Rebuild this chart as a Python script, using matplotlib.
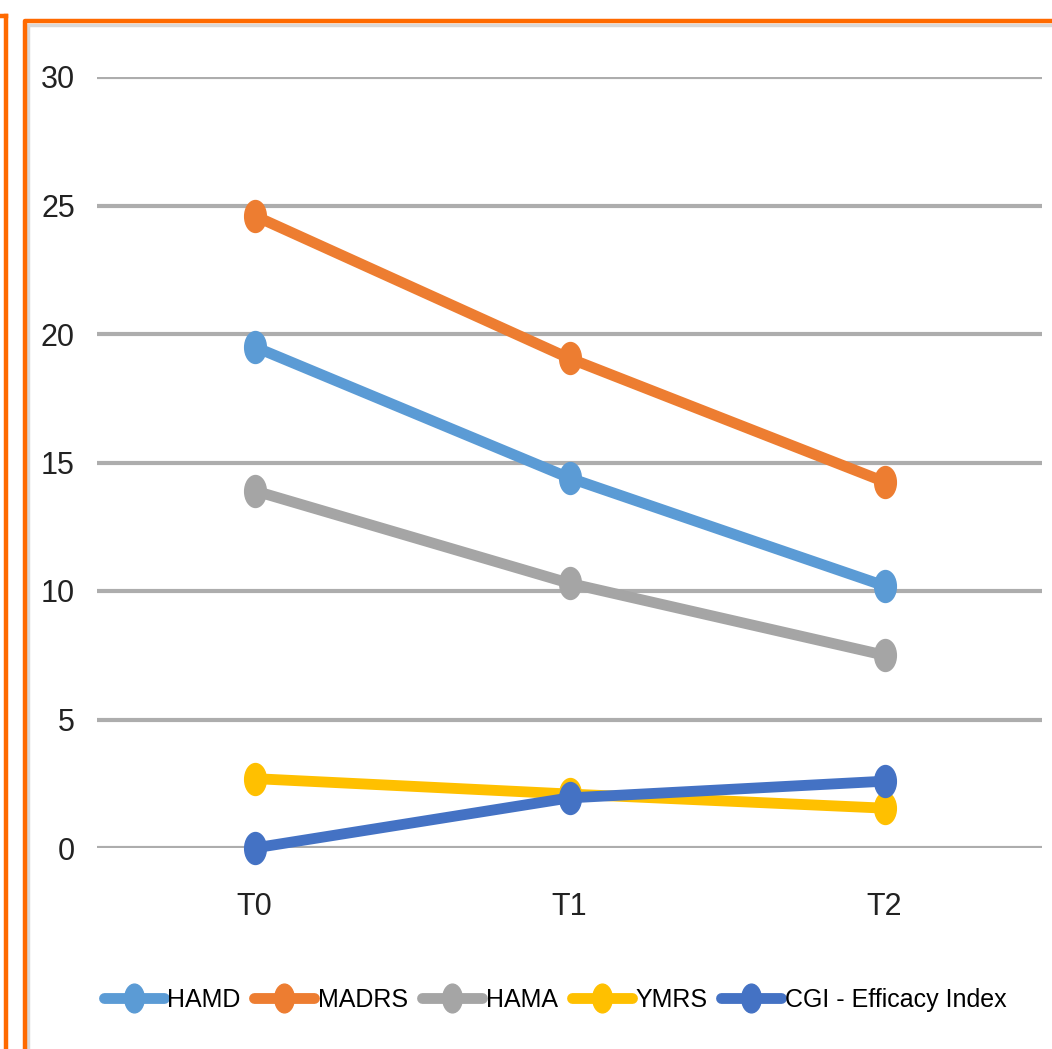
import numpy as np
import matplotlib.pyplot as plt
from matplotlib.lines import Line2D
from matplotlib.path import Path
from matplotlib.transforms import Affine2D

plt.rcParams['font.family'] = ['Liberation Sans', 'DejaVu Sans']

# scores at each visit
visits = ["T0", "T1", "T2"]
hamd = [19.5, 14.4, 10.2]
madrs = [24.6, 19.05, 14.25]
hama = [13.9, 10.3, 7.5]
ymrs = [2.7, 2.1, 1.55]
cgi = [0.0, 1.95, 2.6]

names = ["HAMD", "MADRS", "HAMA", "YMRS", "CGI - Efficacy Index"]
colors = ["#5B9BD5", "#ED7D31", "#A5A5A5", "#FFC000", "#4472C4"]

W, H = 1052, 1049
fig = plt.figure(figsize=(W / 100, H / 100), dpi=100)

def fx(px):
    return px / W

def fy(py):
    return 1 - py / H

ax = fig.add_axes([fx(97), fy(848), fx(1042) - fx(97), fy(77) - fy(848)])

# tall oval marker
oval = Path.unit_circle().transformed(Affine2D().scale(0.68, 1.0))

x = np.arange(len(visits))
for vals, name, c in zip([hamd, madrs, hama, ymrs, cgi], names, colors):
    ax.plot(x, vals, color=c, lw=7.8, marker=oval, markersize=23,
            label=name, clip_on=False, solid_capstyle='round', zorder=3)

ax.set_xlim(-0.5, 2.5)
ax.set_ylim(0, 30)
ax.set_yticks(range(0, 31, 5))
ax.set_xticks(x)
ax.set_xticklabels(visits)
ax.yaxis.grid(True, color="#ADADAD", lw=3)
ax.set_axisbelow(True)
for s in ax.spines.values():
    s.set_visible(False)
ax.tick_params(length=0, labelsize=22, colors="#222222")
ax.tick_params(axis='y', pad=16)
ax.tick_params(axis='x', pad=32)

fig.legend(loc='center', bbox_to_anchor=(fx(555), fy(1000)), ncol=5,
           frameon=False, fontsize=18, handlelength=2.4, handletextpad=0.15,
           columnspacing=0.55, borderaxespad=0, markerscale=0.9)

# orange frames
orange = "#FF6A00"
fig.add_artist(Line2D([fx(5.5), fx(5.5)], [fy(16), fy(1060)], color=orange, lw=3.2))
fig.add_artist(Line2D([fx(0), fx(5.5)], [fy(16), fy(16)], color=orange, lw=3.2))
fig.add_artist(Line2D([fx(28), fx(28), fx(1060)], [fy(1060), fy(25), fy(25)],
                      color="#D9D9D9", lw=2.5))
fig.add_artist(Line2D([fx(24.5), fx(24.5), fx(1060)], [fy(1060), fy(21), fy(21)],
                      color=orange, lw=3.2))

fig.savefig("out.png", dpi=100)
